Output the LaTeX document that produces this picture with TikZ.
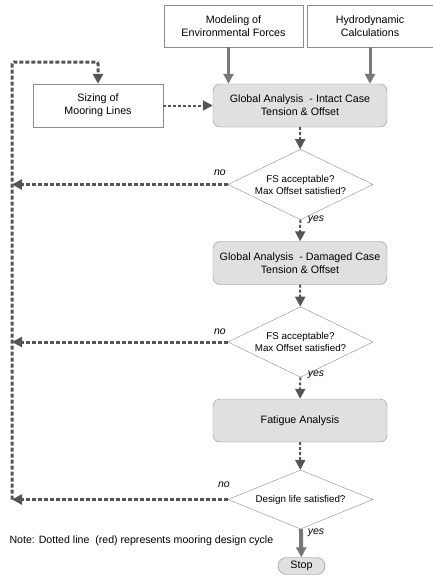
\documentclass[tikz,border=0pt]{standalone}
\usepackage{fontspec}
\setmainfont{Liberation Sans}
\usepackage{tikz}
\usetikzlibrary{arrows.meta,positioning,shapes.geometric}
\definecolor{boxline}{RGB}{140,140,140}
\definecolor{boxfill}{RGB}{224,224,224}
\definecolor{loopgray}{RGB}{85,85,85}
\definecolor{feedgray}{RGB}{120,120,120}
\tikzset{
  inbox/.style={draw=boxline, fill=white, minimum width=139pt, minimum height=42pt,
                align=center, font=\fontsize{10.7}{13}\selectfont},
  procbox/.style={inbox, fill=boxfill, rounded corners=7pt, minimum width=174pt, minimum height=43pt},
  decision/.style={diamond, draw=boxline, fill=white, minimum width=145pt, minimum height=57pt,
                   inner sep=-10pt, align=center, font=\fontsize{9.8}{12}\selectfont},
  stopbox/.style={draw=boxline, fill=boxfill, rounded corners=8.5pt, minimum width=47pt,
                  minimum height=17pt, inner sep=0pt, font=\fontsize{10.7}{12}\selectfont},
  looparr/.style={-{Triangle[length=10pt,width=10pt]}, loopgray, line width=3pt, dash pattern=on 4pt off 2pt},
  flowarr/.style={-{Triangle[length=10pt,width=10pt]}, loopgray, line width=2pt, dash pattern=on 3pt off 2pt},
  feedarr/.style={-{Triangle[length=10pt,width=10pt]}, feedgray, line width=3pt},
  answer/.style={font=\itshape\fontsize{10.5}{12}\selectfont},
}
\begin{document}
\begin{tikzpicture}[x=1pt, y=-1pt]
  \useasboundingbox (0,0) rectangle (433,579);
  \node[inbox] (model) at (233.5,26) {Modeling of\\Environmental Forces};
  \node[inbox, minimum width=126pt] (hydro) at (370,26) {Hydrodynamic\\Calculations};
  \node[inbox, minimum width=130pt, minimum height=43pt] (sizing) at (98,105.5) {Sizing of\\Mooring Lines};
  \node[procbox] (intact) at (300,105.5) {Global Analysis\ \ - Intact Case\\Tension \& Offset};
  \node[decision] (fs1) at (300.5,184.5) {FS acceptable?\\Max Offset satisfied?};
  \node[procbox] (damaged) at (300,263) {Global Analysis\ \ - Damaged Case\\Tension \& Offset};
  \node[decision] (fs2) at (300.5,342) {FS acceptable?\\Max Offset satisfied?};
  \node[procbox] (fatigue) at (300,420.5) {Fatigue Analysis};
  \node[decision] (life) at (300.5,499.5) {Design life satisfied?};
  \node[stopbox] (stop) at (301.5,566) {Stop};
  \node[anchor=west, font=\fontsize{10.6}{12}\selectfont] (note) at (6,541) {Note: Dotted line\ \ (red) represents mooring design cycle};
  \node[answer] (no1) at (220,173) {no};
  \node[answer] (no2) at (220,332) {no};
  \node[answer] (no3) at (224,485) {no};
  \node[answer] (yes1) at (316,220) {yes};
  \node[answer] (yes2) at (316,375) {yes};
  \node[answer] (yes3) at (316,533) {yes};
  \coordinate (loopbot) at (12,499.5);
  \coordinate (looptop) at (12,62);
  \draw[feedarr] ([xshift=-5pt]model.south) -- ([xshift=-5pt]model.south |- intact.north);
  \draw[feedarr] (hydro.south) -- (hydro.south |- intact.north);
  \draw[looparr, rounded corners=2pt] (loopbot) -- (looptop) -| (sizing.north);
  \draw[flowarr] (sizing) -- (intact);
  \draw[flowarr] (intact) -- (fs1);
  \draw[flowarr] (fs1) -- (damaged);
  \draw[flowarr] (damaged) -- (fs2);
  \draw[flowarr] (fs2) -- (fatigue);
  \draw[flowarr] (fatigue) -- (life);
  \draw[feedarr, line width=4pt] (life) -- (stop);
  \draw[looparr] (fs1.west) -- (fs1.west -| looptop);
  \draw[looparr] (fs2.west) -- (fs2.west -| looptop);
  \draw[looparr] (life.west) -- (loopbot);
\end{tikzpicture}
\end{document}
